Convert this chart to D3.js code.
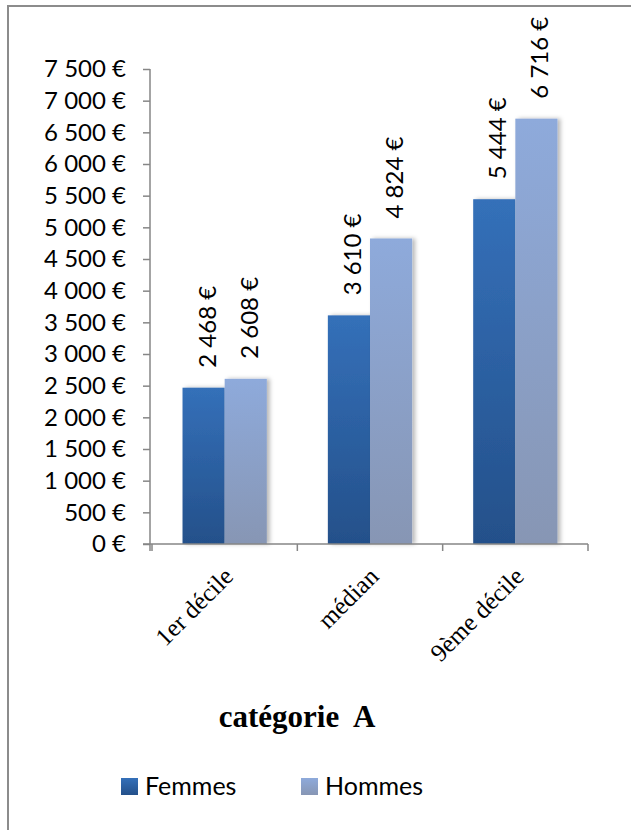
<!DOCTYPE html>
<html>
<head>
<meta charset="utf-8">
<script src="https://cdn.jsdelivr.net/npm/d3@7"></script>
<style>
  html, body { margin: 0; padding: 0; background: #fff; }
  svg { display: block; }
  .sans { font-family: Lato, "Open Sans", "Liberation Sans", sans-serif; }
  .serif { font-family: "Liberation Serif", "DejaVu Serif", serif; }
</style>
</head>
<body>
<svg id="chart" width="631" height="830"></svg>
<script>
// Salaires par décile, catégorie A
const categories = ["1er décile", "médian", "9ème décile"];
const series = ["Femmes", "Hommes"];
const femmes = [2468, 3610, 5444];
const hommes = [2608, 4824, 6716];
const yTicks = [0, 500, 1000, 1500, 2000, 2500, 3000, 3500, 4000, 4500, 5000, 5500, 6000, 6500, 7000, 7500];
const chartTitle = "catégorie  A";

const values = [femmes, hommes];
const fmt = v => d3.format(",")(v).replace(/,/g, " ") + " €";

const svg = d3.select("#chart");

// frame around the chart area
svg.append("rect")
  .attr("x", 8).attr("y", 6)
  .attr("width", 640).attr("height", 840)
  .attr("fill", "none").attr("stroke", "#8c8c8c").attr("stroke-width", 2);

const defs = svg.append("defs");
const grads = [
  { id: "g-femmes", top: "#3470b9", bottom: "#24508a" },
  { id: "g-hommes", top: "#8eaadb", bottom: "#8796b4" }
];
grads.forEach(g => {
  const lg = defs.append("linearGradient").attr("id", g.id)
    .attr("x1", 0).attr("y1", 0).attr("x2", 0).attr("y2", 1);
  lg.append("stop").attr("offset", "0%").attr("stop-color", g.top);
  lg.append("stop").attr("offset", "100%").attr("stop-color", g.bottom);
});
const shadow = defs.append("filter").attr("id", "barShadow")
  .attr("x", "-20%").attr("y", "-5%").attr("width", "150%").attr("height", "110%");
shadow.append("feDropShadow")
  .attr("dx", 3).attr("dy", 0).attr("stdDeviation", 2)
  .attr("flood-color", "#000").attr("flood-opacity", 0.28);

const plot = { left: 152, right: 588, top: 69, bottom: 544 };

const y = d3.scaleLinear().domain([0, 7500]).range([plot.bottom, plot.top]);
const x0 = d3.scaleBand().domain(categories)
  .range([plot.left, plot.right]).paddingInner(0.42).paddingOuter(0.21);
const x1 = d3.scaleBand().domain(series).range([0, x0.bandwidth()]);

const axisColor = "#868686";

// bars
categories.forEach((c, i) => {
  series.forEach((s, j) => {
    const v = values[j][i];
    svg.append("rect")
      .attr("x", x0(c) + x1(s))
      .attr("y", y(v))
      .attr("width", x1.bandwidth())
      .attr("height", y(0) - y(v))
      .attr("fill", `url(#${grads[j].id})`)
      .attr("filter", "url(#barShadow)");
  });
});

// y axis
const yAxis = svg.append("g")
  .attr("transform", `translate(${plot.left - 2},0)`)
  .call(d3.axisLeft(y).tickValues(yTicks).tickSize(7).tickPadding(17).tickFormat(fmt));
yAxis.select(".domain").attr("stroke", axisColor).attr("stroke-width", 1.5)
  .attr("d", `M0,${plot.top}V${plot.bottom + 7}`);
yAxis.selectAll(".tick line").attr("stroke", axisColor).attr("stroke-width", 1.5);
yAxis.selectAll(".tick text").attr("class", "sans")
  .attr("font-size", 24).attr("fill", "#000");

// x axis
const xAxis = svg.append("g").attr("transform", `translate(0,${plot.bottom})`);
xAxis.append("line")
  .attr("x1", plot.left - 9).attr("x2", plot.right)
  .attr("y1", 0).attr("y2", 0)
  .attr("stroke", axisColor).attr("stroke-width", 1.5);
const step = x0.step();
d3.range(categories.length + 1).forEach(k => {
  const xt = plot.left + k * step;
  xAxis.append("line")
    .attr("x1", xt).attr("x2", xt).attr("y1", 0).attr("y2", 7)
    .attr("stroke", axisColor).attr("stroke-width", 1.5);
});
categories.forEach(c => {
  const cx = x0(c) + x0.bandwidth() / 2;
  xAxis.append("text").attr("class", "serif")
    .attr("font-size", 25)
    .attr("text-anchor", "end")
    .attr("transform", `translate(${cx + 10},${34}) rotate(-45)`)
    .text(c);
});

// value labels
categories.forEach((c, i) => {
  series.forEach((s, j) => {
    const v = values[j][i];
    const cx = x0(c) + x1(s) + x1.bandwidth() / 2;
    svg.append("text").attr("class", "sans")
      .attr("font-size", 24)
      .attr("text-anchor", "start")
      .attr("transform", `translate(${cx + 12},${y(v) - 20}) rotate(-90)`)
      .text(fmt(v));
  });
});

// title
svg.append("text").attr("class", "serif")
  .attr("x", 297).attr("y", 727)
  .attr("text-anchor", "middle")
  .attr("font-size", 31).attr("font-weight", "bold")
  .attr("xml:space", "preserve")
  .style("white-space", "pre")
  .text(chartTitle);

// legend
const legend = svg.append("g").attr("class", "sans");
const legendX = [121, 301];
series.forEach((s, j) => {
  const g = legend.append("g").attr("transform", `translate(${legendX[j]},778)`);
  g.append("rect").attr("width", 17).attr("height", 17)
    .attr("fill", `url(#${grads[j].id})`);
  g.append("text").attr("x", 24).attr("y", 17)
    .attr("font-size", 25).attr("fill", "#000").text(s);
});
</script>
</body>
</html>
